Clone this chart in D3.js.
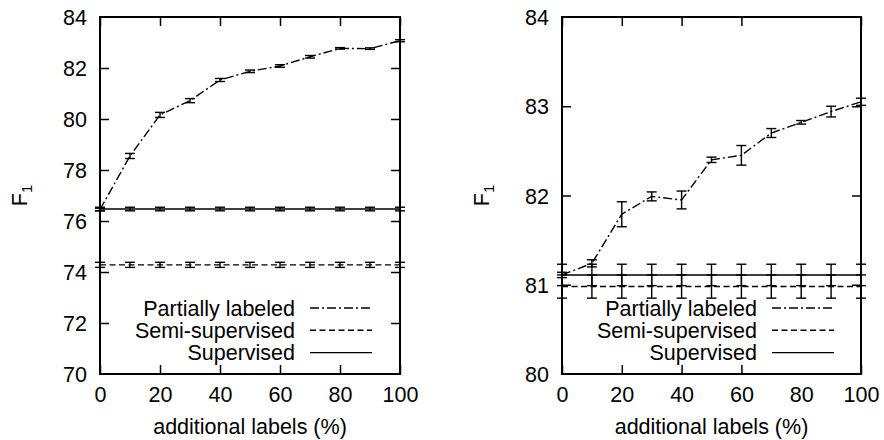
<!DOCTYPE html>
<html>
<head>
<meta charset="utf-8">
<script src="https://cdn.jsdelivr.net/npm/d3@7"></script>
<style>
  body { margin: 0; background: #fff; }
  svg { display: block; }
  text { font-family: "Liberation Sans", Arial, Helvetica, sans-serif; fill: #000; }
</style>
</head>
<body>
<div id="chart"></div>
<script>
// additional labels (%)
const xPct = [0, 10, 20, 30, 40, 50, 60, 70, 80, 90, 100];
const xTicks = [0, 20, 40, 60, 80, 100];

// left panel
const leftYTicks = [70, 72, 74, 76, 78, 80, 82, 84];
const leftPartial = [76.45, 78.55, 80.16, 80.72, 81.53, 81.87, 82.08, 82.44, 82.77, 82.76, 83.07];
const leftPartialErr = [0.05, 0.1, 0.1, 0.08, 0.06, 0.05, 0.05, 0.05, 0.03, 0.03, 0.04];
const leftSemi = [74.28, 74.28, 74.28, 74.28, 74.28, 74.28, 74.28, 74.28, 74.28, 74.28, 74.28];
const leftSemiErr = [0.1, 0.1, 0.1, 0.1, 0.1, 0.1, 0.1, 0.1, 0.1, 0.1, 0.1];
const leftSup = [76.47, 76.47, 76.47, 76.47, 76.47, 76.47, 76.47, 76.47, 76.47, 76.47, 76.47];
const leftSupErr = [0.07, 0.07, 0.07, 0.07, 0.07, 0.07, 0.07, 0.07, 0.07, 0.07, 0.07];

// right panel
const rightYTicks = [80, 81, 82, 83, 84];
const rightPartial = [81.11, 81.24, 81.79, 81.99, 81.95, 82.40, 82.45, 82.70, 82.82, 82.94, 83.05];
const rightPartialErr = [0.03, 0.04, 0.14, 0.05, 0.1, 0.03, 0.11, 0.05, 0.02, 0.06, 0.04];
const rightSemi = [80.98, 80.98, 80.98, 80.98, 80.98, 80.98, 80.98, 80.98, 80.98, 80.98, 80.98];
const rightSemiErr = [0.13, 0.13, 0.13, 0.13, 0.13, 0.13, 0.13, 0.13, 0.13, 0.13, 0.13];
const rightSup = [81.11, 81.11, 81.11, 81.11, 81.11, 81.11, 81.11, 81.11, 81.11, 81.11, 81.11];
const rightSupErr = [0.12, 0.12, 0.12, 0.12, 0.12, 0.12, 0.12, 0.12, 0.12, 0.12, 0.12];

const legendNames = ["Partially labeled", "Semi-supervised", "Supervised"];

const W = 884, H = 440;
const fontSize = 21.5;
const dashPartial = "9,3,2,3";
const dashSemi = "6,3.5";

const svg = d3.select("#chart").append("svg")
    .attr("width", W)
    .attr("height", H);

function panel(x0, x1, yDomain, yTicks, series) {
    const top = 17, bottom = 374;
    const x = d3.scaleLinear().domain([0, 100]).range([x0, x1]);
    const y = d3.scaleLinear().domain(yDomain).range([bottom, top]);
    const g = svg.append("g");

    // axes, ticks point inward and are mirrored
    g.append("g")
        .attr("transform", `translate(${x0},0)`)
        .call(d3.axisLeft(y).tickValues(yTicks).tickSizeInner(-9).tickSizeOuter(0).tickPadding(13).tickFormat(d3.format("d")))
        .call(a => a.selectAll("text").style("font-size", fontSize + "px").attr("dy", "0.35em"));
    g.append("g")
        .attr("transform", `translate(${x1},0)`)
        .call(d3.axisRight(y).tickValues(yTicks).tickSizeInner(-9).tickSizeOuter(0).tickFormat(""));
    g.append("g")
        .attr("transform", `translate(0,${bottom})`)
        .call(d3.axisBottom(x).tickValues(xTicks).tickSizeInner(-9).tickSizeOuter(0))
        .call(a => a.selectAll("text").attr("y", 13).attr("dy", "0.71em").style("font-size", fontSize + "px"));
    g.append("g")
        .attr("transform", `translate(0,${top})`)
        .call(d3.axisTop(x).tickValues(xTicks).tickSizeInner(-9).tickSizeOuter(0).tickFormat(""));
    g.selectAll(".domain").remove();
    g.selectAll(".tick line").attr("stroke", "#000").attr("stroke-width", 1.5);
    g.selectAll(".tick").filter(d => d === yDomain[0] || d === yDomain[1]).select("line").remove();
    g.append("rect")
        .attr("x", x0).attr("y", top)
        .attr("width", x1 - x0).attr("height", bottom - top)
        .attr("fill", "none").attr("stroke", "#000").attr("stroke-width", 2);

    const line = d3.line().x((d, i) => x(xPct[i])).y(d => y(d));

    series.forEach(s => {
        g.append("path")
            .datum(s.values)
            .attr("d", line)
            .attr("fill", "none")
            .attr("stroke", "#000")
            .attr("stroke-width", 1.4)
            .attr("stroke-dasharray", s.dash);

        const eb = g.append("g");
        s.values.forEach((v, i) => {
            const cx = x(xPct[i]);
            const yt = y(v + s.err[i]), yb = y(v - s.err[i]);
            eb.append("line").attr("x1", cx).attr("x2", cx).attr("y1", yt).attr("y2", yb);
            eb.append("line").attr("x1", cx - 5).attr("x2", cx + 5).attr("y1", yt).attr("y2", yt);
            eb.append("line").attr("x1", cx - 5).attr("x2", cx + 5).attr("y1", yb).attr("y2", yb);
        });
        eb.selectAll("line").attr("stroke", "#000").attr("stroke-width", 1.4);
    });

    // legend
    series.forEach((s, i) => {
        const ly = 308 + i * 22.3;
        g.append("text")
            .attr("x", x0 + 195).attr("y", ly + 7.5)
            .attr("text-anchor", "end")
            .style("font-size", fontSize + "px")
            .text(s.name);
        g.append("line")
            .attr("x1", x0 + 210).attr("x2", x0 + 272)
            .attr("y1", ly).attr("y2", ly)
            .attr("stroke", "#000").attr("stroke-width", 1.4)
            .attr("stroke-dasharray", s.dash);
    });

    // axis titles
    g.append("text")
        .attr("x", (x0 + x1) / 2).attr("y", 434)
        .attr("text-anchor", "middle")
        .style("font-size", fontSize + "px")
        .text("additional labels (%)");
    const yl = g.append("text")
        .attr("transform", `translate(${x0 - 73},${(top + bottom) / 2}) rotate(-90)`)
        .attr("text-anchor", "middle")
        .style("font-size", fontSize + "px");
    yl.append("tspan").text("F");
    yl.append("tspan").attr("dy", 5).style("font-size", "15px").text("1");
}

panel(100, 400, [70, 84], leftYTicks, [
    {name: legendNames[0], values: leftPartial, err: leftPartialErr, dash: dashPartial},
    {name: legendNames[1], values: leftSemi, err: leftSemiErr, dash: dashSemi},
    {name: legendNames[2], values: leftSup, err: leftSupErr, dash: null}
]);

panel(562, 861, [80, 84], rightYTicks, [
    {name: legendNames[0], values: rightPartial, err: rightPartialErr, dash: dashPartial},
    {name: legendNames[1], values: rightSemi, err: rightSemiErr, dash: dashSemi},
    {name: legendNames[2], values: rightSup, err: rightSupErr, dash: null}
]);
</script>
</body>
</html>
